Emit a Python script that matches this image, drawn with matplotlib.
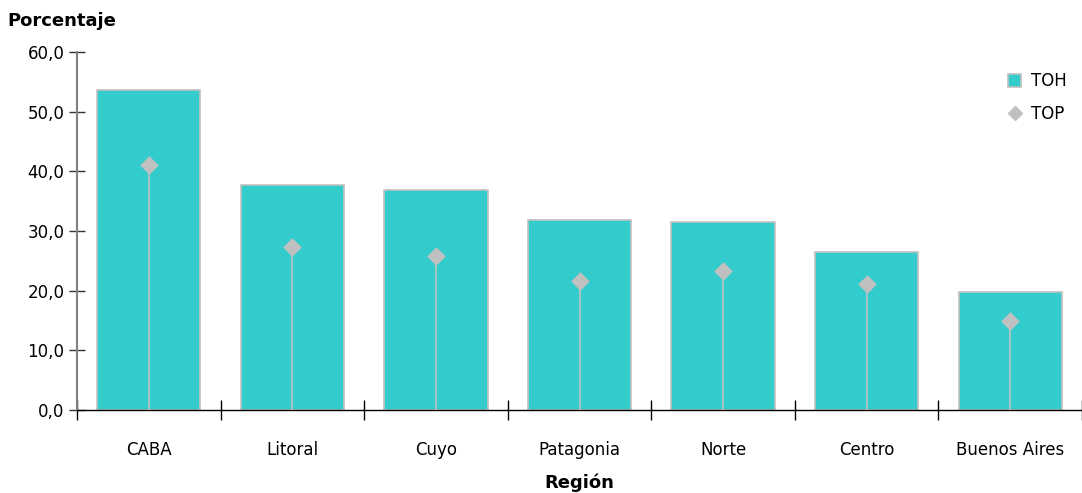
import numpy as np
import matplotlib
matplotlib.use('Agg')
import matplotlib.pyplot as plt
from matplotlib.lines import Line2D
from matplotlib.patches import Patch

regiones = ['CABA', 'Litoral', 'Cuyo', 'Patagonia', 'Norte', 'Centro', 'Buenos Aires']
toh = [53.6, 37.7, 36.9, 31.8, 31.5, 26.5, 19.8]
top = [41.0, 27.3, 25.8, 21.6, 23.3, 21.1, 14.9]
yticks = [0, 10, 20, 30, 40, 50, 60]

bar_color = '#33CCCC'
grey = '#C0C0C0'

plt.rcParams['font.family'] = ['DejaVu Sans']

fig = plt.figure(figsize=(10.82, 4.93), dpi=100)
ax = fig.add_axes([77 / 1082, 1 - 410 / 493, 1005 / 1082, 358 / 493])

x = np.arange(len(regiones))
ax.bar(x, toh, width=0.72, color=bar_color, edgecolor=grey, linewidth=1.2, zorder=2)
ax.vlines(x, 0, top, color=grey, linewidth=1.2, zorder=3)
ax.scatter(x, top, marker='D', s=90, color=grey, zorder=4, linewidths=0)

ax.set_xlim(-0.5, len(regiones) - 0.5)
ax.set_ylim(0, 60)
ax.set_yticks(yticks)
ax.set_yticklabels([f'{v:.1f}'.replace('.', ',') for v in yticks], fontsize=12)
ax.set_xticks(x)
ax.set_xticklabels(regiones, fontsize=12)
ax.tick_params(axis='x', length=0, pad=22)
ax.set_xticks(np.arange(len(regiones) + 1) - 0.5, minor=True)
ax.tick_params(axis='x', which='minor', direction='inout', length=14, width=1, color='black')
ax.tick_params(axis='y', direction='inout', length=12, width=1, color='#333333', pad=3)

for s in ['top', 'right']:
    ax.spines[s].set_visible(False)
ax.spines['left'].set_color('#808080')
ax.spines['left'].set_linewidth(1.5)
ax.spines['bottom'].set_color('black')
ax.spines['bottom'].set_linewidth(1)

ax.set_xlabel('Región', fontsize=13, fontweight='semibold', labelpad=11)
fig.text(7 / 1082, 1 - 21 / 493, 'Porcentaje', fontsize=13, fontweight='semibold',
         ha='left', va='center')

handles = [Patch(facecolor=bar_color, edgecolor=grey, linewidth=1.2),
           Line2D([], [], marker='D', color=grey, linestyle='none', markersize=7)]
ax.legend(handles, ['TOH', 'TOP'], loc='upper right', bbox_to_anchor=(1.0, 0.985),
          frameon=False, fontsize=12, handlelength=0.8, handleheight=0.8,
          handletextpad=0.6, labelspacing=0.9)

fig.savefig('out.png', dpi=100)
